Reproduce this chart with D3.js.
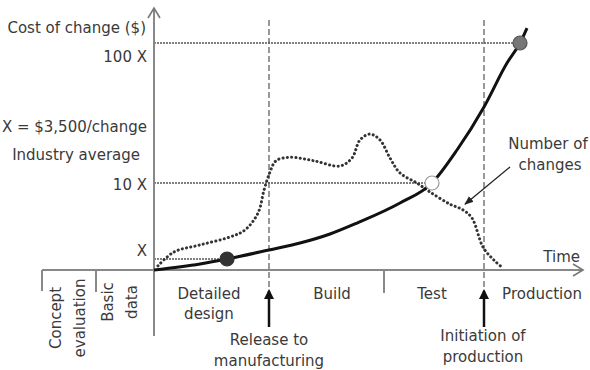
<!DOCTYPE html>
<html>
<head>
<meta charset="utf-8">
<script src="https://cdnjs.cloudflare.com/ajax/libs/d3/7.8.5/d3.min.js"></script>
<style>
	body { margin: 0; background: #fff; }
	text { font-family: "DejaVu Sans", sans-serif; font-size: 15px; fill: #3a3a3a; }
</style>
</head>
<body>
<svg id="chart" width="590" height="370"></svg>
<script>
// time runs in arbitrary units, 0 = start of detailed design
let costTime  = [0, 11.5, 18.25, 28.75, 36.5, 44, 50.75, 61.5, 69.5, 75.75, 82.5, 88.25, 91.5, 93.25];
let costValue = [0, 0.55, 1, 2.07, 2.89, 3.96, 5.26, 7.63, 10, 31.2, 58.9, 87.1, 100, 109.6];

let changesTime  = [1, 5, 11.5, 19, 22.75, 26, 27.5, 29, 30.5, 34, 40, 46.5, 49.5, 51.5, 54, 56.5, 59, 61.5, 65.75, 69, 74, 77.25, 79.5, 82.25, 85, 87.25];
let changesCount = [3, 12.9, 17.9, 23.6, 28.6, 40.7, 57, 70, 78, 80.5, 78, 74.3, 80, 92.9, 97.1, 92.9, 80, 69.3, 62.1, 55.7, 47, 42.9, 37.1, 16.4, 7, 1.4];

let costTicks = [1, 10, 100];
let costTickLabels = ["X", "10 X", "100 X"];
let markedCosts = [1, 10, 100];
let markedTimes = [18.25, 69.5, 91.5];

let phaseNames = [["Concept", "evaluation"], ["Basic", "data"], ["Detailed", "design"], ["Build"], ["Test"], ["Production"]];
let phaseCenters = [-21.5, -8.5, 13.75, 44.5, 69.5, 97];
let phaseBounds = [-28, -14.5, 0, 57.5];

let milestoneNames = [["Release to", "manufacturing"], ["Initiation of", "production"]];
let milestoneTimes = [28.75, 82.5];

let x = d3.scaleLinear().domain([-28, 107.25]).range([42, 583]);
let y = d3.scaleLinear().domain([0, 1, 10, 100, 110]).range([270, 259, 183, 43, 27.4]);
let yChanges = d3.scaleLinear().domain([0, 100]).range([270, 130]);

let svg = d3.select("svg#chart");

let defs = svg.append("defs");
defs.append("marker")
	.attr("id", "head")
	.attr("viewBox", "0 0 10 10")
	.attr("refX", 8)
	.attr("refY", 5)
	.attr("markerWidth", 4)
	.attr("markerHeight", 4)
	.attr("orient", "auto")
	.append("path")
	.attr("d", "M0,0 L10,5 L0,10 z")
	.attr("fill", "#111");
defs.append("marker")
	.attr("id", "smallhead")
	.attr("viewBox", "0 0 10 10")
	.attr("refX", 9)
	.attr("refY", 5)
	.attr("markerWidth", 7)
	.attr("markerHeight", 7)
	.attr("orient", "auto")
	.append("path")
	.attr("d", "M0,1 L10,5 L0,9 z")
	.attr("fill", "#222");

// reference lines to the marked costs
markedCosts.forEach(function(c, i) {
	svg.append("line")
		.attr("x1", x(0))
		.attr("x2", x(markedTimes[i]))
		.attr("y1", y(c))
		.attr("y2", y(c))
		.attr("stroke", "#555")
		.attr("stroke-width", 1.4)
		.attr("stroke-dasharray", "2 1");
});

// milestone dashed lines
milestoneTimes.forEach(function(t, i) {
	svg.append("line")
		.attr("x1", x(t)).attr("x2", x(t))
		.attr("y1", 20).attr("y2", 296)
		.attr("stroke", "#555")
		.attr("stroke-width", 1.2)
		.attr("stroke-dasharray", "6 3");
});

// axes
svg.append("line")
	.attr("x1", x(0)).attr("x2", x(0))
	.attr("y1", 8).attr("y2", 336)
	.attr("stroke", "#888").attr("stroke-width", 2);
svg.append("path")
	.attr("d", "M" + (x(0) - 6) + ",18 L" + x(0) + ",8 L" + (x(0) + 6) + ",18")
	.attr("fill", "none").attr("stroke", "#777").attr("stroke-width", 1.6);
svg.append("line")
	.attr("x1", x(-28)).attr("x2", x(107.25))
	.attr("y1", y(0)).attr("y2", y(0))
	.attr("stroke", "#888").attr("stroke-width", 2);
svg.append("path")
	.attr("d", "M" + (x(107.25) - 10) + "," + (y(0) - 6) + " L" + x(107.25) + "," + y(0) + " L" + (x(107.25) - 10) + "," + (y(0) + 6))
	.attr("fill", "none").attr("stroke", "#777").attr("stroke-width", 1.6);

// phase dividers below the time axis
let boundEnds = [291, 292, 336, 293];
phaseBounds.forEach(function(b, i) {
	svg.append("line")
		.attr("x1", x(b)).attr("x2", x(b))
		.attr("y1", y(0)).attr("y2", boundEnds[i])
		.attr("stroke", "#888").attr("stroke-width", 2);
});

// cost ticks
let tickDy = [-8, 2, 14];
costTicks.forEach(function(c, i) {
	svg.append("text")
		.text(costTickLabels[i])
		.attr("x", x(0) - 7)
		.attr("y", y(c) + tickDy[i])
		.attr("dy", "0.35em")
		.attr("text-anchor", "end");
});

svg.append("text").text("Cost of change ($)").attr("x", 146).attr("y", 28).attr("dy", "0.35em").attr("text-anchor", "end");
svg.append("text").text("X = $3,500/change").attr("x", 147).attr("y", 127).attr("dy", "0.35em").attr("text-anchor", "end");
svg.append("text").text("Industry average").attr("x", 140).attr("y", 155).attr("dy", "0.35em").attr("text-anchor", "end");
svg.append("text").text("Time").attr("x", 580).attr("y", 257).attr("dy", "0.35em").attr("text-anchor", "end");

// number of changes (dotted)
let changesLine = d3.line()
	.x(function(d, i) { return x(changesTime[i]); })
	.y(function(d) { return yChanges(d); })
	.curve(d3.curveCatmullRom);
svg.append("path")
	.attr("d", changesLine(changesCount))
	.attr("fill", "none")
	.attr("stroke", "#333")
	.attr("stroke-width", 3)
	.attr("stroke-linecap", "round")
	.attr("stroke-dasharray", "0.1 4.2");

// cost curve
let costLine = d3.line()
	.x(function(d, i) { return x(costTime[i]); })
	.y(function(d) { return y(d); })
	.curve(d3.curveMonotoneX);
svg.append("path")
	.attr("d", costLine(costValue))
	.attr("fill", "none")
	.attr("stroke", "#111")
	.attr("stroke-width", 3);

let dotFill = ["#333", "#fff", "#777"];
let dotStroke = ["#333", "#999", "#555"];
markedCosts.forEach(function(c, i) {
	svg.append("circle")
		.attr("cx", x(markedTimes[i]))
		.attr("cy", y(c))
		.attr("r", 7)
		.attr("fill", dotFill[i])
		.attr("stroke", dotStroke[i])
		.attr("stroke-width", 1.2);
});

// number of changes label + pointer
svg.append("text").text("Number of").attr("x", 548).attr("y", 144).attr("dy", "0.35em").attr("text-anchor", "middle");
svg.append("text").text("changes").attr("x", 550).attr("y", 165).attr("dy", "0.35em").attr("text-anchor", "middle");
svg.append("line")
	.attr("x1", 510).attr("y1", 167)
	.attr("x2", x(77.75)).attr("y2", yChanges(47))
	.attr("stroke", "#222").attr("stroke-width", 1.3)
	.attr("marker-end", "url(#smallhead)");

// phase labels
phaseNames.forEach(function(lines, i) {
	if (i < 2) {
		lines.forEach(function(l, j) {
			let cx = x(phaseCenters[i]) + (j - 0.5) * 24;
			let cy = i == 0 ? 318 : 302;
			svg.append("text")
				.text(l)
				.attr("transform", "translate(" + cx + "," + cy + ") rotate(-90)")
				.attr("dy", "0.35em")
				.attr("text-anchor", "middle");
		});
	} else {
		lines.forEach(function(l, j) {
			svg.append("text")
				.text(l)
				.attr("x", x(phaseCenters[i]))
				.attr("y", 294 + j * 20)
				.attr("dy", "0.35em")
				.attr("text-anchor", "middle");
		});
	}
});

// milestone arrows and labels
milestoneTimes.forEach(function(t, i) {
	svg.append("line")
		.attr("x1", x(t)).attr("x2", x(t))
		.attr("y1", 327).attr("y2", 291)
		.attr("stroke", "#111").attr("stroke-width", 2.5)
		.attr("marker-end", "url(#head)");
	milestoneNames[i].forEach(function(l, j) {
		svg.append("text")
			.text(l)
			.attr("x", x(t) + (i == 0 ? 0 : -1))
			.attr("y", (i == 0 ? 340 : 336) + j * 21)
			.attr("dy", "0.35em")
			.attr("text-anchor", "middle");
	});
});
</script>
</body>
</html>
